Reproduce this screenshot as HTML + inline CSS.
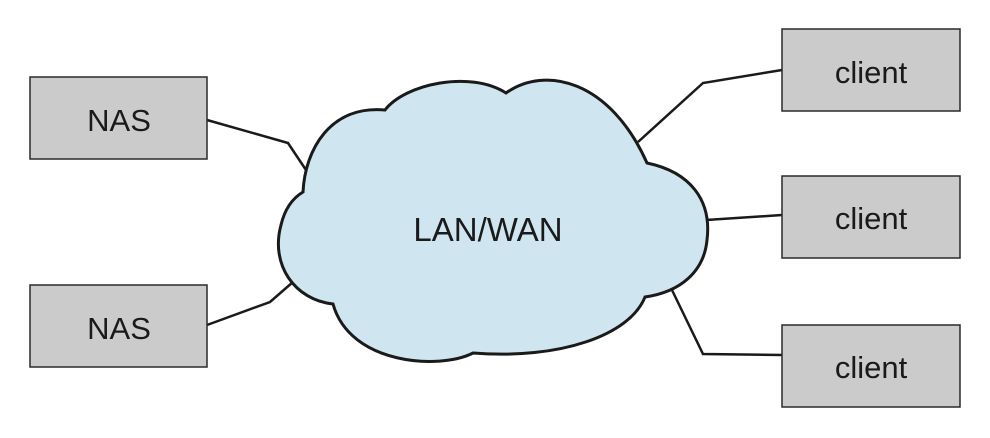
<!DOCTYPE html>
<html><head><style>body{margin:0;background:#fff}</style></head><body>
<svg width="990" height="438" viewBox="0 0 990 438" xmlns="http://www.w3.org/2000/svg" style="display:block">
<g stroke="#1a1a1a" stroke-width="2.5" fill="none">
<polyline points="207,120 288,143 306,170"/>
<polyline points="207,325 270,302 293,282"/>
<polyline points="782,70 703,83 638,142"/>
<polyline points="782,215 706,220"/>
<polyline points="782,355 703,354 671,288"/>
</g>
<path d="M385,110 C405,84 470,70 506,93 C545,65 610,80 647,163 C690,172 712,200 707,240 C704,272 680,292 645,297 C630,335 560,360 473,353 C440,370 350,365 333,304 C295,300 270,265 281,225 C285,208 293,198 303,192 C305,150 330,105 385,110 Z" fill="#cfe6f0" stroke="#1a1a1a" stroke-width="3"/>
<g fill="#cbcbcb" stroke="#2a2a2a" stroke-width="1.5">
<rect x="30" y="77" width="177" height="82"/>
<rect x="30" y="285" width="177" height="82"/>
<rect x="782" y="29" width="178" height="82"/>
<rect x="782" y="176" width="178" height="82"/>
<rect x="782" y="325" width="178" height="82"/>
</g>
<g font-family="Liberation Sans, sans-serif" font-size="31" fill="#1a1a1a" text-anchor="middle">
<text x="119" y="131">NAS</text>
<text x="119" y="339">NAS</text>
<text x="871" y="83">client</text>
<text x="871" y="229">client</text>
<text x="871" y="378">client</text>
<text x="488" y="241" font-size="33">LAN/WAN</text>
</g>
</svg>
</body></html>
